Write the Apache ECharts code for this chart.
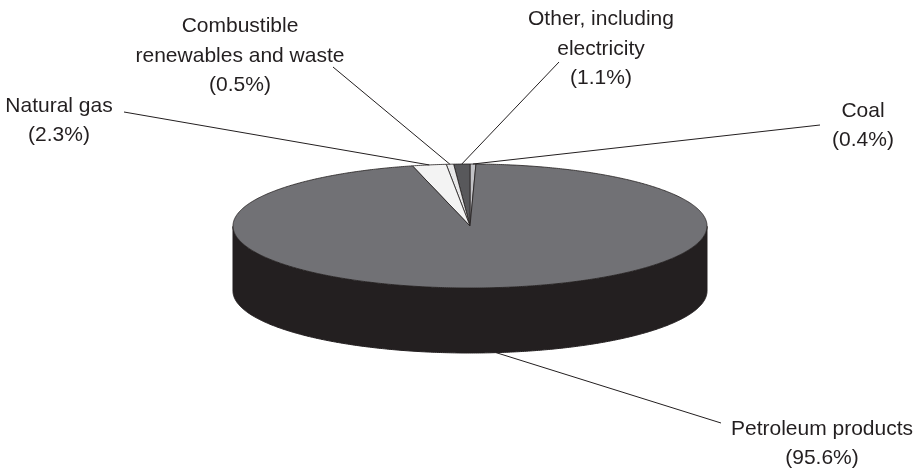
<!DOCTYPE html>
<html>
<head>
<meta charset="utf-8">
<style>
  html, body { margin: 0; padding: 0; background: #ffffff; }
  #chart { width: 920px; height: 469px; }
</style>
<script src="https://cdn.jsdelivr.net/npm/echarts@6/dist/echarts.min.js"></script>
</head>
<body>
<div id="chart"></div>
<script>
// Shares of final energy consumption by source (%)
const categories = ['Coal', 'Other, including electricity', 'Combustible renewables and waste', 'Natural gas', 'Petroleum products'];
const shares = [0.4, 1.1, 0.5, 2.3, 95.6];
// How each category name is broken over lines in its label
const labelNameLines = [['Coal'], ['Other, including', 'electricity'], ['Combustible', 'renewables and waste'], ['Natural gas'], ['Petroleum products']];

// Styling and layout
const sliceColors = ['#c2c2c6', '#58585b', '#e8e8e9', '#f3f3f3', '#717175'];
const SIDE_COLOR = '#231f20';
const EDGE = '#231f20';
const TEXT_COLOR = '#231f20';
const CENTER = [470, 226];
const RX = 237, RY = 62, DEPTH = 65;
const FLAT = RY / RX;
// label centre x and first-line baseline y
const labelAnchors = [[863, 118], [601, 26.5], [240, 33.5], [59, 113], [822, 436]];
// outer ends of the leader lines
const leaderEnds = [[820, 125], [559, 62], [333, 67], [124, 112], [721, 423]];

const total = shares.reduce((a, b) => a + b, 0);
// the first slice ends at twelve o'clock
const startAngle = 90 - shares[0] / total * 360;

const sliceData = [];
let acc = 0;
shares.forEach((s, i) => { sliceData.push([1, acc, acc + s, i]); acc += s; });

function renderSlice(params, api) {
  const i = api.value(3);
  const v0 = api.value(1), v1 = api.value(2);
  const c = api.coord([0, 0]);
  // point on the tilted rim for a cumulative share value
  const rim = v => {
    const p = api.coord([1, v]);
    return [p[0], c[1] + (p[1] - c[1]) * FLAT];
  };
  const n = Math.max(2, Math.ceil((v1 - v0) / total * 720));
  const arc = [];
  for (let j = 0; j <= n; j++) arc.push(rim(v0 + (v1 - v0) * j / n));

  const children = [];
  // visible outer wall (front half of the disc)
  const front = arc.filter(p => p[1] > c[1]);
  if (front.length > 1) {
    const wall = front.concat(front.slice().reverse().map(p => [p[0], p[1] + DEPTH]));
    children.push({
      type: 'polygon', z2: 1,
      shape: { points: wall },
      style: { fill: SIDE_COLOR, stroke: EDGE, lineWidth: 1, lineJoin: 'round' }
    });
  }
  // top face
  children.push({
    type: 'polygon', z2: 5,
    shape: { points: [c].concat(arc) },
    style: { fill: sliceColors[i], stroke: EDGE, lineWidth: 0.8, lineJoin: 'round' }
  });
  // leader line from the slice's middle
  const mid = rim((v0 + v1) / 2);
  const start = mid[1] > c[1] ? [mid[0], mid[1] + DEPTH] : mid;
  children.push({
    type: 'line', z2: 8,
    shape: { x1: start[0], y1: start[1], x2: leaderEnds[i][0], y2: leaderEnds[i][1] },
    style: { stroke: EDGE, lineWidth: 1 }
  });
  // label
  children.push({
    type: 'text', z2: 9,
    x: labelAnchors[i][0], y: labelAnchors[i][1] - 22,
    style: {
      text: labelNameLines[i].concat('(' + shares[i].toFixed(1) + '%)').join('\n'),
      align: 'center', verticalAlign: 'top',
      font: '21px "Liberation Sans", Arial, sans-serif',
      fill: TEXT_COLOR, lineHeight: 29.5
    }
  });
  return { type: 'group', children: children };
}

const chart = echarts.init(document.getElementById('chart'), null, { renderer: 'canvas' });
chart.setOption({
  animation: false,
  backgroundColor: '#ffffff',
  polar: { center: CENTER, radius: RX },
  angleAxis: { type: 'value', min: 0, max: total, startAngle: startAngle, clockwise: false, show: false },
  radiusAxis: { type: 'value', min: 0, max: 1, show: false },
  series: [{
    type: 'custom',
    name: 'Energy source',
    coordinateSystem: 'polar',
    clip: false,
    silent: true,
    encode: { radius: 0, angle: 1 },
    data: sliceData.map((d, i) => ({ name: categories[i], value: d })),
    renderItem: renderSlice
  }]
});
</script>
</body>
</html>
